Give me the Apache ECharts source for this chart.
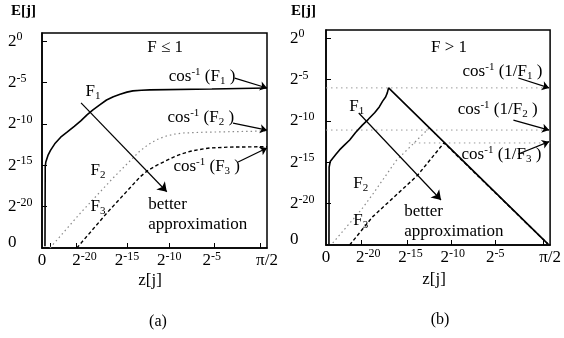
<!DOCTYPE html>
<html>
<head>
<meta charset="utf-8">
<script src="https://cdn.jsdelivr.net/npm/echarts@6/dist/echarts.min.js"></script>
<style>
  html, body { margin: 0; padding: 0; background: #fff; }
  #chart { width: 564px; height: 338px; }
</style>
</head>
<body>
<div id="chart"></div>
<script>
// Both axes are in base-2 exponents; the "0" end of each axis sits at -25.
const yLabelValues = [0, -5, -10, -15, -20, -24.3];
const yLabelText = ['2^0', '2^-5', '2^-10', '2^-15', '2^-20', '0'];
const yTickValues = [0, -5, -10, -15, -20];
const xLabelValues = [-25, -20, -15, -10, -5, 1.5];
const xLabelText = ['0', '2^-20', '2^-15', '2^-10', '2^-5', 'π/2'];
const xTicksA = [-24, -21, -15, -10, -4.7, 0.7];
const xTicksB = [-20.8, -15.4, -10.2, -5, 0.7];

// (a) F <= 1 : error E[j] against z[j]
const f1A = [[-24.65, -24.8], [-24.62, -15.2], [-24.55, -14.6], [-24.3, -13.8], [-24.0, -13.2],
             [-23.5, -12.4], [-22.8, -11.6], [-22.05, -11.0], [-21.2, -10.3], [-20.4, -9.6],
             [-19.7, -8.9], [-19.0, -8.3], [-18.2, -7.7], [-17.4, -7.1], [-16.6, -6.7],
             [-15.8, -6.4], [-15.0, -6.15], [-14.3, -6.0], [-13.3, -5.92], [-12.3, -5.88],
             [-5, -5.78], [1.5, -5.65]];
const f2A = [[-24.06, -25], [-20.5, -20.8], [-16.6, -16.5], [-13.5, -13.3], [-12.5, -12.5],
             [-11.5, -11.9], [-10.5, -11.5], [-9.5, -11.25], [-8.5, -11.1], [-6, -11.0],
             [1.5, -10.85]];
const f3A = [[-20.9, -25], [-17.3, -20.7], [-13.45, -16.4], [-12.5, -15.6], [-11.5, -15.0],
             [-10.5, -14.5], [-9.5, -14.0], [-8.5, -13.6], [-7.5, -13.3], [-6.5, -13.1],
             [-5.2, -12.9], [-3, -12.8], [1.5, -12.75]];

// (b) F > 1
const f1B = [[-24.65, -24.9], [-24.63, -15.6], [-24.5, -14.9], [-24.2, -14.5], [-23.8, -14.0],
             [-23.4, -13.5], [-22.8, -12.9], [-22.2, -12.3], [-21.5, -11.4], [-20.7, -10.5],
             [-20.0, -9.8], [-19.25, -9.0], [-18.7, -8.3], [-18.3, -7.6], [-17.95, -7.1],
             [-17.75, -6.6], [-17.6, -6.0], [1.26, -24.9]];
const f2B = [[-24.2, -24.75], [-20.8, -20.7], [-19.5, -18.9], [-16.7, -14.8], [-12.8, -10.85],
             [1.26, -24.9]];
const f3B = [[-22.2, -25], [-19.5, -21.6], [-14.2, -16.6], [-11.05, -12.65], [1.26, -24.9]];
// cos^-1(1/F) limits
const levelsB = [-6.0, -11.1, -12.66];
const levelStartB = [-25, -25, -15.2];

const FONT = 'Liberation Serif';
const BLACK = '#000';

function supText(s) {
  const i = s.indexOf('^');
  if (i < 0) return '{b|' + s + '}';
  return '{b|' + s.slice(0, i) + '}{s|' + s.slice(i + 1) + '}';
}
const richTick = {
  b: { fontFamily: FONT, fontSize: 17, color: BLACK, lineHeight: 20 },
  s: { fontFamily: FONT, fontSize: 12, color: BLACK, lineHeight: 12, verticalAlign: 'top' }
};
const richNote = {
  t: { fontFamily: FONT, fontSize: 17, color: BLACK, lineHeight: 20 },
  p: { fontFamily: FONT, fontSize: 11, color: BLACK, lineHeight: 12, verticalAlign: 'top' },
  d: { fontFamily: FONT, fontSize: 11, color: BLACK, lineHeight: 10, verticalAlign: 'bottom' }
};
function lookup(values, texts, v) {
  for (let i = 0; i < values.length; i++) if (Math.abs(values[i] - v) < 1e-6) return texts[i];
  return '';
}

function makeX(idx, ticks) {
  return {
    gridIndex: idx, type: 'value', min: -25, max: 1.5,
    splitLine: { show: false },
    axisLine: { show: true, onZero: false, lineStyle: { color: BLACK, width: 1.5 } },
    axisTick: { show: true, inside: true, length: 5, customValues: ticks, lineStyle: { color: BLACK, width: 1 } },
    axisLabel: {
      show: true, margin: 3, customValues: xLabelValues,
      formatter: v => supText(lookup(xLabelValues, xLabelText, v)),
      rich: richTick
    }
  };
}
function makeY(idx, margin) {
  return {
    gridIndex: idx, type: 'value', min: -25, max: 1,
    splitLine: { show: false },
    axisLine: { show: true, onZero: false, lineStyle: { color: BLACK, width: 1.5 } },
    axisTick: { show: true, inside: true, length: 5, customValues: yTickValues, lineStyle: { color: BLACK, width: 1 } },
    axisLabel: {
      show: true, margin: margin, align: 'left', customValues: yLabelValues,
      formatter: v => supText(lookup(yLabelValues, yLabelText, v)),
      rich: richTick
    }
  };
}

function curve(idx, data, style, z) {
  return {
    type: 'line', xAxisIndex: idx, yAxisIndex: idx, data: data,
    showSymbol: false, smooth: false, z: z || 2,
    lineStyle: style, silent: true, animation: false
  };
}
function arrows(idx, segs, size) {
  return {
    type: 'lines', coordinateSystem: 'cartesian2d', xAxisIndex: idx, yAxisIndex: idx,
    symbol: ['none', 'arrow'], symbolSize: size, silent: true, animation: false, z: 5,
    lineStyle: { color: BLACK, width: 1.2, opacity: 1 },
    data: segs.map(s => ({ coords: s }))
  };
}
function notes(idx, items) {
  return {
    type: 'scatter', xAxisIndex: idx, yAxisIndex: idx, symbolSize: 0, silent: true, animation: false, z: 6,
    itemStyle: { opacity: 1, color: BLACK },
    data: items.map(n => ({
      value: n.at,
      label: {
        show: true, position: n.left ? 'right' : 'inside', distance: 0,
        formatter: n.text, rich: richNote, align: n.left ? 'left' : 'center',
        color: BLACK, opacity: 1, textBorderWidth: 0, textBorderColor: 'transparent',
        lineHeight: 20
      }
    }))
  };
}

const dottedGray = { color: '#8a8a8a', width: 1.2, type: [1.5, 3] };
const dashedBlack = { color: BLACK, width: 1.4, type: [3.5, 2.5] };
const solidBlack = { color: BLACK, width: 1.6 };
const refDotted = { color: '#9a9a9a', width: 1, type: [1.5, 3.5] };

const chart = echarts.init(document.getElementById('chart'), null, { renderer: 'canvas' });
chart.setOption({
  animation: false,
  backgroundColor: '#fff',
  grid: [
    { left: 42, top: 33, width: 225, height: 215, show: true, borderColor: BLACK, borderWidth: 1.5, backgroundColor: 'transparent' },
    { left: 326, top: 30, width: 226, height: 215, show: true, borderColor: BLACK, borderWidth: 1.5, backgroundColor: 'transparent' }
  ],
  xAxis: [makeX(0, xTicksA), makeX(1, xTicksB)],
  yAxis: [makeY(0, 34), makeY(1, 36)],
  graphic: [
    { type: 'text', left: 11, top: 4, style: { text: 'E[j]', font: 'bold 15px "Liberation Serif"', fill: BLACK } },
    { type: 'text', left: 291, top: 4, style: { text: 'E[j]', font: 'bold 15px "Liberation Serif"', fill: BLACK } },
    { type: 'text', x: 150, y: 281, style: { text: 'z[j]', font: '17px "Liberation Serif"', fill: BLACK, align: 'center', verticalAlign: 'middle' } },
    { type: 'text', x: 434, y: 280, style: { text: 'z[j]', font: '17px "Liberation Serif"', fill: BLACK, align: 'center', verticalAlign: 'middle' } },
    { type: 'text', x: 158, y: 322, style: { text: '(a)', font: '16px "Liberation Serif"', fill: BLACK, align: 'center', verticalAlign: 'middle' } },
    { type: 'text', x: 440, y: 320, style: { text: '(b)', font: '16px "Liberation Serif"', fill: BLACK, align: 'center', verticalAlign: 'middle' } }
  ],
  series: [
    // panel (a)
    curve(0, f2A, dottedGray, 2),
    curve(0, f3A, dashedBlack, 3),
    curve(0, f1A, solidBlack, 4),
    arrows(0, [
      [[-2.3, -4.45], [1.5, -5.65]],
      [[-2.5, -9.9], [1.5, -10.75]],
      [[-1.9, -14.6], [1.5, -12.9]]
    ], 7),
    arrows(0, [[[-20.4, -7.46], [-10.3, -18.2]]], 9),
    notes(0, [
      { at: [-10.5, -0.8], text: '{t|F ≤ 1}' },
      { at: [-6.15, -4.3], text: '{t|cos}{p|-1}{t| (F}{d|1}{t| )}' },
      { at: [-6.3, -9.2], text: '{t|cos}{p|-1}{t| (F}{d|2}{t| )}' },
      { at: [-5.6, -15.2], text: '{t|cos}{p|-1}{t| (F}{d|3}{t| )}' },
      { at: [-19.0, -6.1], text: '{t|F}{d|1}' },
      { at: [-18.4, -15.6], text: '{t|F}{d|2}' },
      { at: [-18.4, -20.0], text: '{t|F}{d|3}' },
      { at: [-12.5, -21.0], text: '{t|better}\n{t|approximation}', left: true }
    ]),
    // panel (b)
    ...levelsB.map((lv, i) => curve(1, [[levelStartB[i], lv], [1.5, lv]], refDotted, 1)),
    curve(1, f2B, dottedGray, 2),
    curve(1, f3B, dashedBlack, 3),
    curve(1, f1B, solidBlack, 4),
    arrows(1, [
      [[-2.26, -4.8], [1.38, -6.0]],
      [[-2.84, -9.9], [1.38, -11.1]],
      [[-2.26, -14.0], [1.38, -12.5]]
    ], 7),
    arrows(1, [[[-21.13, -9.04], [-11.4, -19.56]]], 9),
    notes(1, [
      { at: [-10.46, -1.06], text: '{t|F > 1}' },
      { at: [-4.13, -4.08], text: '{t|cos}{p|-1}{t| (1/F}{d|1}{t| )}' },
      { at: [-4.7, -8.67], text: '{t|cos}{p|-1}{t| (1/F}{d|2}{t| )}' },
      { at: [-4.25, -14.1], text: '{t|cos}{p|-1}{t| (1/F}{d|3}{t| )}' },
      { at: [-21.37, -8.3], text: '{t|F}{d|1}' },
      { at: [-20.9, -17.6], text: '{t|F}{d|2}' },
      { at: [-20.9, -22.0], text: '{t|F}{d|3}' },
      { at: [-15.74, -22.2], text: '{t|better}\n{t|approximation}', left: true }
    ])
  ]
});
</script>
</body>
</html>
